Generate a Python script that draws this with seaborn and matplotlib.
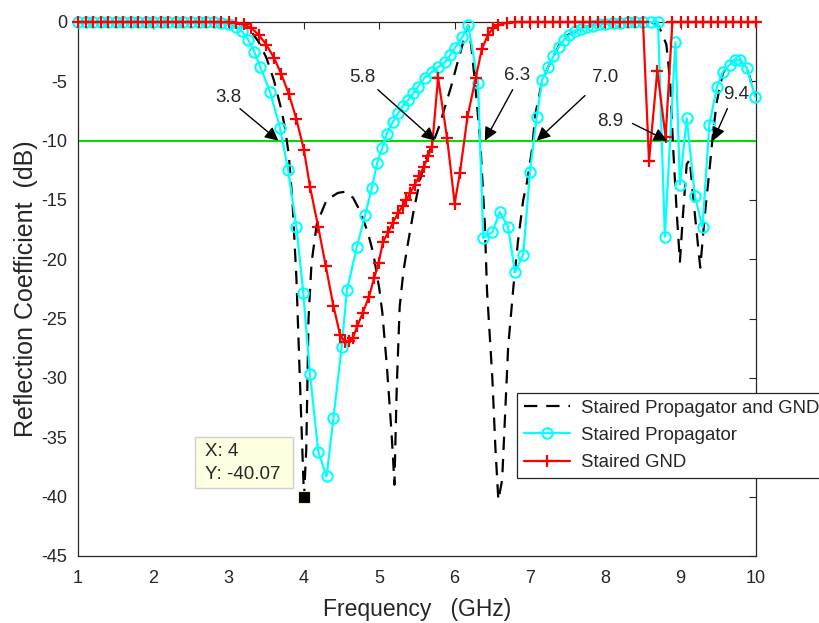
import numpy as np
import pandas as pd
import matplotlib
matplotlib.use("Agg")
import matplotlib.pyplot as plt
import seaborn as sns
from matplotlib.patches import Rectangle

# ---------------- data ----------------
# Staired Propagator and GND (black dashed)
black_x = [1.0, 1.5, 2.0, 2.5, 2.8, 3.0, 3.1, 3.2, 3.3, 3.4, 3.5, 3.6, 3.7, 3.75, 3.8, 3.85,
           3.9, 3.95, 4.0, 4.03, 4.06, 4.1, 4.17, 4.3, 4.45, 4.55, 4.65, 4.75, 4.85, 4.92,
           5.0, 5.04, 5.1, 5.15, 5.18, 5.2, 5.23, 5.27, 5.32, 5.37, 5.45, 5.54, 5.62, 5.7,
           5.8, 5.85, 5.95, 6.03, 6.1, 6.14, 6.18, 6.22, 6.27, 6.34, 6.4, 6.43, 6.5, 6.54,
           6.58, 6.63, 6.67, 6.71, 6.78, 6.84, 6.91, 6.96, 7.03, 7.07, 7.16, 7.24, 7.31,
           7.4, 7.5, 7.6, 7.7, 7.8, 7.9, 8.0, 8.2, 8.4, 8.6, 8.7, 8.75, 8.81, 8.86, 8.9,
           8.95, 8.99, 9.03, 9.08, 9.12, 9.19, 9.26, 9.32, 9.39, 9.43, 9.48, 9.56, 9.65,
           9.72, 9.79, 9.88, 10.0]
black_y = [0.0, 0.0, 0.0, 0.0, 0.0, -0.05, -0.1, -0.3, -0.8, -1.7, -3.0, -4.9, -7.4, -9.0, -11.3, -15.5,
           -21.7, -31.0, -40.07, -36.0, -25.0, -20.3, -17.0, -15.0, -14.4, -14.3, -14.8, -16.0, -17.8, -19.5,
           -22.5, -24.5, -29.0, -33.5, -36.5, -39.0, -31.0, -24.0, -21.0, -19.0, -16.1, -13.3, -11.5, -10.4,
           -8.7, -7.6, -5.5, -3.6, -2.0, -1.0, -0.3, -2.0, -5.1, -10.1, -17.0, -22.7, -30.0, -35.8,
           -40.3, -38.6, -33.0, -27.4, -22.3, -18.5, -15.0, -13.5, -10.6, -7.8, -5.0, -3.8, -2.9,
           -1.8, -1.1, -0.8, -0.5, -0.3, -0.2, -0.1, -0.05, 0.0, 0.0, -0.3, -0.9, -1.9, -5.0, -10.6,
           -16.3, -20.2, -16.3, -12.0, -11.6, -16.3, -20.7, -16.3, -12.0, -9.3, -6.7, -4.3, -3.5,
           -3.2, -3.2, -3.9, -6.3]

# Staired Propagator (cyan, circles)
cyan_x = [1.0, 1.1, 1.2, 1.3, 1.4, 1.5, 1.6, 1.7, 1.8, 1.9, 2.0, 2.1, 2.2, 2.3, 2.4, 2.5, 2.6,
          2.7, 2.8, 2.9, 3.0, 3.1, 3.18, 3.26, 3.34, 3.42, 3.55, 3.68, 3.79, 3.9, 3.99, 4.08,
          4.19, 4.30, 4.39, 4.50, 4.57, 4.70, 4.81, 4.90, 4.97, 5.04, 5.10, 5.18, 5.25, 5.31,
          5.38, 5.45, 5.51, 5.60, 5.70, 5.78, 5.87, 5.94, 6.00, 6.10, 6.18, 6.31, 6.38, 6.50,
          6.60, 6.71, 6.80, 6.91, 7.00, 7.09, 7.16, 7.24, 7.31, 7.38, 7.45, 7.52, 7.60, 7.68,
          7.76, 7.84, 7.92, 8.00, 8.10, 8.20, 8.30, 8.40, 8.50, 8.60, 8.70, 8.79, 8.93, 8.99,
          9.08, 9.19, 9.29, 9.38, 9.48, 9.56, 9.65, 9.72, 9.79, 9.88, 9.99]
cyan_y = [0.0, 0.0, 0.0, 0.0, 0.0, 0.0, 0.0, 0.0, 0.0, 0.0, 0.0, 0.0, 0.0, 0.0, 0.0, 0.0, 0.0,
          0.0, -0.02, -0.05, -0.15, -0.4, -0.8, -1.5, -2.5, -3.8, -5.9, -8.9, -12.5, -17.3, -22.8, -29.7,
          -36.2, -38.3, -33.4, -27.4, -22.6, -19.0, -16.3, -14.0, -11.9, -10.6, -9.4, -8.4, -7.7, -7.1,
          -6.6, -6.0, -5.5, -4.7, -4.2, -3.8, -3.4, -2.8, -2.2, -1.3, -0.25, -5.1, -18.2, -17.7,
          -16.0, -17.3, -21.1, -19.6, -12.6, -8.0, -4.9, -3.8, -2.9, -2.1, -1.5, -1.1, -0.8, -0.55,
          -0.4, -0.3, -0.2, -0.15, -0.1, -0.05, 0.0, 0.0, 0.0, 0.0, 0.0, -18.1, -1.7, -13.7,
          -8.1, -14.7, -17.3, -8.7, -5.5, -4.2, -3.6, -3.2, -3.2, -3.9, -6.3]

# Staired GND (red, plus)
red_x = [1.0, 1.1, 1.2, 1.3, 1.4, 1.5, 1.6, 1.7, 1.8, 1.9, 2.0, 2.1, 2.2, 2.3, 2.4, 2.5, 2.6,
         2.7, 2.8, 2.9, 3.0, 3.1, 3.2, 3.3, 3.4, 3.5, 3.6, 3.7, 3.8, 3.9, 4.0, 4.08, 4.19,
         4.29, 4.39, 4.48, 4.55, 4.6, 4.65, 4.71, 4.78, 4.86, 4.93, 4.99, 5.05, 5.12, 5.18,
         5.25, 5.31, 5.36, 5.41, 5.47, 5.53, 5.59, 5.65, 5.70, 5.78, 5.90, 6.00, 6.07, 6.17,
         6.28, 6.36, 6.44, 6.51, 6.58, 6.7, 6.8, 6.9, 7.0, 7.1, 7.2, 7.3, 7.4, 7.5, 7.6, 7.7,
         7.8, 7.9, 8.0, 8.1, 8.2, 8.3, 8.4, 8.5, 8.58, 8.69, 8.80, 8.89, 9.0, 9.1, 9.2, 9.3,
         9.4, 9.5, 9.6, 9.7, 9.8, 9.9, 10.0]
red_y = [0.0, 0.0, 0.0, 0.0, 0.0, 0.0, 0.0, 0.0, 0.0, 0.0, 0.0, 0.0, 0.0, 0.0, 0.0, 0.0, 0.0,
         0.0, 0.0, 0.0, -0.02, -0.08, -0.2, -0.5, -1.1, -1.9, -3.0, -4.4, -6.1, -8.2, -10.8, -13.9, -17.3,
         -20.6, -23.9, -26.4, -27.0, -26.9, -26.6, -25.6, -24.5, -23.2, -21.6, -20.3, -18.5, -17.7, -16.9,
         -16.1, -15.5, -15.0, -14.4, -13.7, -13.0, -12.2, -11.3, -10.5, -4.7, -9.8, -15.3, -12.7, -8.0,
         -4.7, -2.3, -1.1, -0.5, -0.25, -0.05, 0.0, 0.0, 0.0, 0.0, 0.0, 0.0, 0.0, 0.0, 0.0, 0.0,
         0.0, 0.0, 0.0, 0.0, 0.0, 0.0, 0.0, 0.0, -11.7, -4.1, -9.7, 0.0, 0.0, 0.0, 0.0, 0.0,
         0.0, 0.0, 0.0, 0.0, 0.0, 0.0, 0.0]

series_names = ["Staired Propagator and GND", "Staired Propagator", "Staired GND"]
threshold_db = -10
ann_labels = ["3.8", "5.8", "6.3", "7.0", "8.9", "9.4"]
ann_tip_x = [3.66, 5.74, 6.40, 7.09, 8.82, 9.43]
tip_x, tip_y = 4, -40.07

x_ticks = [1, 2, 3, 4, 5, 6, 7, 8, 9, 10]
y_ticks = [0, -5, -10, -15, -20, -25, -30, -35, -40, -45]

# ---------------- plotting ----------------
sns.set_theme(style="white")
plt.rcParams["font.family"] = ["Liberation Sans", "DejaVu Sans"]
TXT = "#262626"

fig = plt.figure(figsize=(8.19, 6.23), dpi=100)
ax = fig.add_axes([78 / 819, 1 - 556 / 623, (756 - 78) / 819, (556 - 22) / 623])

df_b = pd.DataFrame({"f": black_x, "s": black_y})
df_c = pd.DataFrame({"f": cyan_x, "s": cyan_y})
df_r = pd.DataFrame({"f": red_x, "s": red_y})

ax.axhline(threshold_db, color="#00e000", lw=1.5, zorder=1)

sns.lineplot(data=df_b, x="f", y="s", ax=ax, sort=False, estimator=None, color="black",
             lw=1.6, label=series_names[0], zorder=3)
ln_b = ax.lines[-1]
ln_b.set_linestyle((0, (6, 4)))

sns.lineplot(data=df_c, x="f", y="s", ax=ax, sort=False, estimator=None, color="#00ffff",
             lw=1.6, label=series_names[1], zorder=4)
ln_c = ax.lines[-1]
ln_c.set_marker("o")
ln_c.set_markersize(7.5)
ln_c.set_markerfacecolor("none")
ln_c.set_markeredgecolor("#00ffff")
ln_c.set_markeredgewidth(1.5)

sns.lineplot(data=df_r, x="f", y="s", ax=ax, sort=False, estimator=None, color="#ff0000",
             lw=1.6, label=series_names[2], zorder=5)
ln_r = ax.lines[-1]
ln_r.set_marker("+")
ln_r.set_markersize(9)
ln_r.set_markeredgecolor("#ff0000")
ln_r.set_markeredgewidth(1.6)

for ln in (ln_b, ln_c, ln_r):
    ln.set_clip_on(False)

ax.set_xlim(1, 10)
ax.set_ylim(-45, 0)
ax.set_xticks(x_ticks)
ax.set_yticks(y_ticks)
ax.set_xticklabels([str(t) for t in x_ticks])
ax.set_yticklabels([str(t) for t in y_ticks])
ax.tick_params(direction="in", top=True, right=True, length=5, width=0.8,
               labelsize=13, colors=TXT)
ax.tick_params(axis="x", pad=10)
ax.tick_params(axis="y", pad=8)
for sp in ax.spines.values():
    sp.set_visible(True)
    sp.set_color(TXT)
    sp.set_linewidth(0.9)
ax.set_xlabel("Frequency   (GHz)", fontsize=16.5, color=TXT, labelpad=8)
ax.set_ylabel("Reflection Coefficient  (dB)", fontsize=18, color=TXT, labelpad=2)

# annotations (text arrows)
text_pos = [(3.0, -6.4), (4.77, -4.7), (6.83, -4.5), (8.0, -4.7), (8.07, -8.4), (9.73, -6.1)]
tail_pos = [(3.15, -7.3), (4.98, -5.7), (6.77, -5.7), (7.73, -6.2), (8.36, -8.55), (9.62, -7.3)]
for lab, tx, tp, tl in zip(ann_labels, ann_tip_x, text_pos, tail_pos):
    ax.text(tp[0], tp[1], lab, fontsize=13.5, color=TXT, ha="center", va="center", zorder=6)
    ax.annotate("", xy=(tx, threshold_db), xytext=tl,
                arrowprops=dict(arrowstyle="-|>", color="black", lw=1.0,
                                mutation_scale=20, shrinkA=0, shrinkB=0), zorder=6)

# data tip
ax.add_patch(Rectangle((2.553, -39.26), 1.30, 4.30, facecolor="#ffffe1",
                       edgecolor="#cfcfcf", lw=1.0, zorder=6))
ax.text(2.68, -36.2, f"X: {tip_x}", fontsize=13.5, color=TXT, va="center", zorder=7)
ax.text(2.68, -38.15, f"Y: {tip_y:.2f}", fontsize=13.5, color=TXT, va="center", zorder=7)
ax.plot([tip_x], [tip_y], marker="s", markersize=9, color="black",
        markeredgecolor="#e8e8c8", markeredgewidth=0.8, zorder=8, clip_on=False)

leg = ax.legend(handles=[ln_b, ln_c, ln_r], labels=series_names,
                loc="upper left", bbox_to_anchor=(517 / 819, 1 - 393 / 623),
                bbox_transform=fig.transFigure, borderaxespad=0, fontsize=13.4,
                frameon=True, fancybox=False, edgecolor=TXT, handlelength=2.5,
                handletextpad=0.6, borderpad=0.35, labelspacing=0.55)
leg.get_frame().set_linewidth(0.9)
leg.get_frame().set_alpha(1)
for t in leg.get_texts():
    t.set_color(TXT)

fig.savefig("out.png", dpi=100)
